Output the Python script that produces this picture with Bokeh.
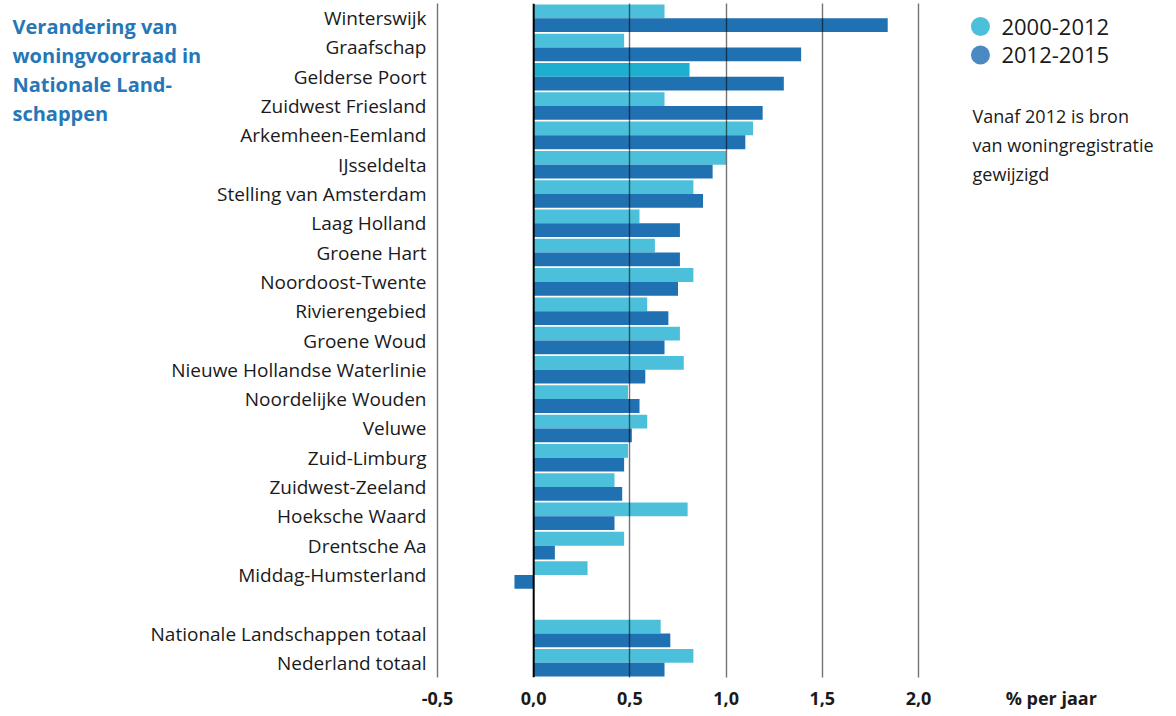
from bokeh.plotting import figure
from bokeh.models import Range1d, FixedTicker, Span, Label
from bokeh.core.properties import value
from bokeh.embed import file_html
from bokeh.resources import INLINE

# ---------------- data ----------------
categories = [
    "Winterswijk", "Graafschap", "Gelderse Poort", "Zuidwest Friesland",
    "Arkemheen-Eemland", "IJsseldelta", "Stelling van Amsterdam", "Laag Holland",
    "Groene Hart", "Noordoost-Twente", "Rivierengebied", "Groene Woud",
    "Nieuwe Hollandse Waterlinie", "Noordelijke Wouden", "Veluwe", "Zuid-Limburg",
    "Zuidwest-Zeeland", "Hoeksche Waard", "Drentsche Aa", "Middag-Humsterland",
    "Nationale Landschappen totaal", "Nederland totaal",
]
# row slot of each category (one empty slot before the totals)
rows = list(range(20)) + [21, 22]

v2000_2012 = [0.68, 0.47, 0.81, 0.68, 1.14, 1.00, 0.83, 0.55, 0.63, 0.83, 0.59,
              0.76, 0.78, 0.49, 0.59, 0.49, 0.42, 0.80, 0.47, 0.28, 0.66, 0.83]
v2012_2015 = [1.84, 1.39, 1.30, 1.19, 1.10, 0.93, 0.88, 0.76, 0.76, 0.75, 0.70,
              0.68, 0.58, 0.55, 0.51, 0.47, 0.46, 0.42, 0.11, -0.10, 0.71, 0.68]

series_names = ["2000-2012", "2012-2015"]
x_ticks = [-0.5, 0.0, 0.5, 1.0, 1.5, 2.0]
x_tick_labels = ["-0,5", "0,0", "0,5", "1,0", "1,5", "2,0"]
unit_label = "% per jaar"
unit_pos = 2.69
title_lines = ["Verandering van", "woningvoorraad in", "Nationale Land-", "schappen"]
note_lines = ["Vanaf 2012 is bron", "van woningregistratie", "gewijzigd"]

# ---------------- style ----------------
LIGHT = "#4CC0DA"
HIGHLIGHT = "#1CAFCE"
DARK = "#1F71B2"
LEG_DARK = "#4A89C1"
TITLE_C = "#2577B8"
TXT = "#1a1a1a"
FONT = "Open Sans"

light_colors = [HIGHLIGHT if c == "Gelderse Poort" else LIGHT for c in categories]

p = figure(width=1160, height=712, output_backend="svg", toolbar_location=None,
           x_range=Range1d(-2.7713, 3.2578), y_range=Range1d(22.5, -0.5),
           min_border_left=0, min_border_right=0, min_border_top=3,
           min_border_bottom=35)
p.outline_line_color = None
p.background_fill_color = "white"
p.yaxis.visible = False

p.hbar(y=[r - 0.235 for r in rows], height=0.47, left=0, right=v2000_2012,
       fill_color=light_colors, line_color=None)
p.hbar(y=[r + 0.235 for r in rows], height=0.47, left=0, right=v2012_2015,
       fill_color=DARK, line_color=None)

# grid on top of bars
p.ygrid.grid_line_color = None
p.xgrid.ticker = FixedTicker(ticks=[t for t in x_ticks if t != 0])
p.xgrid.grid_line_color = "black"
p.xgrid.grid_line_alpha = 0.55
p.xgrid.grid_line_width = 1.4
p.xgrid.level = "overlay"
p.add_layout(Span(location=0, dimension="height", line_color="black", line_width=2,
                  level="overlay"))

# category labels, placed through the y scale, left of the -0,5 line
p.text(x=x_ticks[0], y=rows, text=categories, x_offset=-11,
       text_align="right", text_baseline="middle",
       text_font=value(FONT), text_font_size=value("19px"), text_color=TXT)

# x axis
xa = p.xaxis[0]
xa.ticker = FixedTicker(ticks=x_ticks + [unit_pos])
overrides = {t: l for t, l in zip(x_ticks, x_tick_labels)}
overrides[unit_pos] = unit_label
xa.major_label_overrides = overrides
xa.axis_line_color = None
xa.major_tick_line_color = None
xa.minor_tick_line_color = None
xa.major_tick_out = 0
xa.major_tick_in = 0
xa.major_label_standoff = 8
xa.major_label_text_font = FONT
xa.major_label_text_font_size = "18px"
xa.major_label_text_font_style = "bold"
xa.major_label_text_color = TXT

# title
for i, line in enumerate(title_lines):
    p.add_layout(Label(x=-2.709, y=0.285 + 0.99 * i, text=line, text_font=FONT,
                       text_font_size="20px", text_font_style="bold",
                       text_color=TITLE_C, text_baseline="middle", text_align="left"))

# legend
leg_y = [0.285, 1.258]
p.scatter(x=[2.322, 2.322], y=leg_y, size=19, marker="circle",
          fill_color=[LIGHT, LEG_DARK], line_color=None)
for yy, name in zip(leg_y, series_names):
    p.add_layout(Label(x=2.431, y=yy, text=name, text_font=FONT, text_font_size="22px",
                       text_color=TXT, text_baseline="middle", text_align="left"))

# note
for i, line in enumerate(note_lines):
    p.add_layout(Label(x=2.281, y=3.322 + 0.99 * i, text=line, text_font=FONT,
                       text_font_size="18px", text_color=TXT,
                       text_baseline="middle", text_align="left"))

open("out.html", "w").write(file_html(p, INLINE))
